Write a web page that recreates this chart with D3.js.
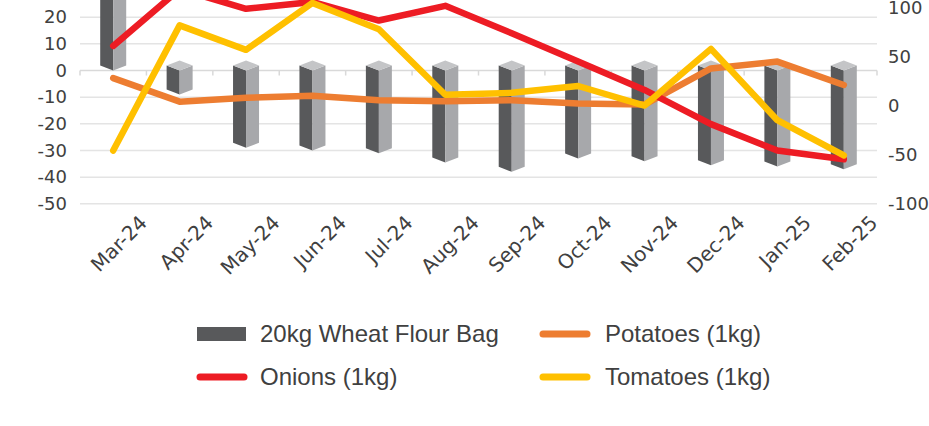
<!doctype html>
<html lang="en">
  <head>
  <meta charset="utf-8" />
  <style>
    body { margin: 0; background: #fff; }
    svg text { fill: #404040; }
    .axis text { font-family: "DejaVu Sans", sans-serif; font-size: 18px; }
    .xlab { font-family: "DejaVu Sans", sans-serif; font-size: 20px; }
    .legend text { font-family: "Liberation Sans", Arial, sans-serif; font-size: 24px; }
  </style>
  </head>
  <body>
  <div id="chart"></div>

    <script src="https://cdn.jsdelivr.net/npm/d3@7"></script>
    <script>
      var width = 929,
         height = 426;

      // data
      var months = ["Mar-24", "Apr-24", "May-24", "Jun-24", "Jul-24", "Aug-24",
                    "Sep-24", "Oct-24", "Nov-24", "Dec-24", "Jan-25", "Feb-25"];
      var wheatFlour = [35, -9, -29, -30, -31, -34.5, -38, -33, -34, -35.5, -36, -37];
      var potatoes = [28, 4, 8, 10, 5.5, 4.5, 5.5, 2, 1, 38, 45, 21];
      var onions = [61, 119, 99, 106, 87, 102, 74, 45, 16, -19, -46, -55];
      var tomatoes = [-46, 82, 57, 105, 78, 11, 13, 20, 0, 58, -15, -51];
      var gridTicks = [-50, -40, -30, -20, -10, 0, 10, 20, 30, 40];
      var leftTicks = [-50, -40, -30, -20, -10, 0, 10, 20];
      var rightTicks = [-100, -50, 0, 50, 100];

      var svg = d3.select("#chart").append("svg")
          .attr("width", width)
          .attr("height", height)
          .style("overflow", "hidden");

      var x = d3.scaleBand().domain(months).range([80, 877]);
      // left axis (bars) and right axis (lines); top of plot is cropped off
      var yL = d3.scaleLinear().domain([-50, 40]).range([203.8, -36.1]);
      var yR = d3.scaleLinear().domain([-100, 100]).range([203.3, 7.8]);
      var cx = function(m) { return x(m) + x.bandwidth() / 2; };

      // gridlines
      svg.append("g")
        .selectAll("line")
        .data(gridTicks)
        .enter().append("line")
        .attr("x1", 80).attr("x2", 877)
        .attr("y1", d => yL(d)).attr("y2", d => yL(d))
        .attr("stroke", d => d === 0 ? "#d9d9d9" : "#e4e4e4")
        .attr("stroke-width", 1.5);

      // category ticks on the zero line
      svg.append("g")
        .selectAll("line")
        .data(months.map(m => x(m)).concat([877]))
        .enter().append("line")
        .attr("x1", d => d).attr("x2", d => d)
        .attr("y1", yL(0)).attr("y2", yL(0) + 5)
        .attr("stroke", "#d9d9d9")
        .attr("stroke-width", 1.5);

      // axis labels use a plain hyphen like the original
      var fmt = d => String(d);

      var leftAxis = svg.append("g")
        .attr("class", "axis")
        .attr("transform", "translate(67,0)")
        .call(d3.axisLeft(yL).tickValues(leftTicks).tickFormat(fmt).tickSize(0).tickPadding(0));
      leftAxis.select(".domain").remove();
      leftAxis.selectAll("text").attr("fill", "#404040");
      leftAxis.attr("font-family", null).attr("font-size", null);

      var rightAxis = svg.append("g")
        .attr("class", "axis")
        .attr("transform", "translate(888,0)")
        .call(d3.axisRight(yR).tickValues(rightTicks).tickFormat(fmt).tickSize(0).tickPadding(0));
      rightAxis.select(".domain").remove();
      rightAxis.selectAll("text").attr("fill", "#404040");
      rightAxis.attr("font-family", null).attr("font-size", null);

      // x labels, rotated
      svg.append("g")
        .selectAll("text")
        .data(months)
        .enter().append("text")
        .attr("class", "xlab")
        .attr("text-anchor", "end")
        .attr("transform", d => "translate(" + (cx(d) + 35) + ",224) rotate(-45)")
        .text(d => d);

      // 3D columns
      var hw = 13, dy = 5;
      var bars = svg.append("g")
        .selectAll("g")
        .data(months.map((m, i) => ({ m: m, v: wheatFlour[i] })))
        .enter().append("g");

      function pts(a) { return a.map(p => p.join(",")).join(" "); }

      bars.append("polygon")
        .attr("fill", "#58595b")
        .attr("points", d => {
          var c = cx(d.m), t = Math.min(yL(0), yL(d.v)), b = Math.max(yL(0), yL(d.v));
          return pts([[c - hw, t - dy], [c, t], [c, b], [c - hw, b - dy]]);
        });
      bars.append("polygon")
        .attr("fill", "#a7a8ab")
        .attr("points", d => {
          var c = cx(d.m), t = Math.min(yL(0), yL(d.v)), b = Math.max(yL(0), yL(d.v));
          return pts([[c, t], [c + hw, t - dy], [c + hw, b - dy], [c, b]]);
        });
      bars.append("polygon")
        .attr("fill", "#c4c5c7")
        .attr("points", d => {
          var c = cx(d.m), t = Math.min(yL(0), yL(d.v));
          return pts([[c - hw, t - dy], [c, t - 2 * dy], [c + hw, t - dy], [c, t]]);
        });

      // lines on the right axis
      var line = d3.line()
        .x((d, i) => cx(months[i]))
        .y(d => yR(d));

      var series = [
        { values: potatoes, color: "#ed7d31" },
        { values: onions, color: "#ed1c24" },
        { values: tomatoes, color: "#ffc000" }
      ];

      svg.append("g")
        .selectAll("path")
        .data(series)
        .enter().append("path")
        .attr("d", d => line(d.values))
        .attr("fill", "none")
        .attr("stroke", d => d.color)
        .attr("stroke-width", 6.5)
        .attr("stroke-linecap", "round")
        .attr("stroke-linejoin", "round");

      // legend
      var legendItems = [
        { name: "20kg Wheat Flour Bag", color: "#58595b", kind: "bar", col: 0, row: 0 },
        { name: "Potatoes (1kg)", color: "#ed7d31", kind: "line", col: 1, row: 0 },
        { name: "Onions (1kg)", color: "#ed1c24", kind: "line", col: 0, row: 1 },
        { name: "Tomatoes (1kg)", color: "#ffc000", kind: "line", col: 1, row: 1 }
      ];
      var colX = [197, 540], rowY = [334, 377];

      var legend = svg.append("g").attr("class", "legend")
        .selectAll("g")
        .data(legendItems)
        .enter().append("g")
        .attr("transform", d => "translate(" + colX[d.col] + "," + rowY[d.row] + ")");

      legend.filter(d => d.kind === "bar").append("rect")
        .attr("x", 0).attr("y", -7).attr("width", 49).attr("height", 14)
        .attr("fill", d => d.color);
      legend.filter(d => d.kind === "line").append("line")
        .attr("x1", 3).attr("x2", 47).attr("y1", 0).attr("y2", 0)
        .attr("stroke", d => d.color)
        .attr("stroke-width", 7)
        .attr("stroke-linecap", "round");
      legend.append("text")
        .attr("x", d => d.col === 0 ? 63 : 65)
        .attr("dy", "0.35em")
        .text(d => d.name);
    </script>
  </body>
</html>
